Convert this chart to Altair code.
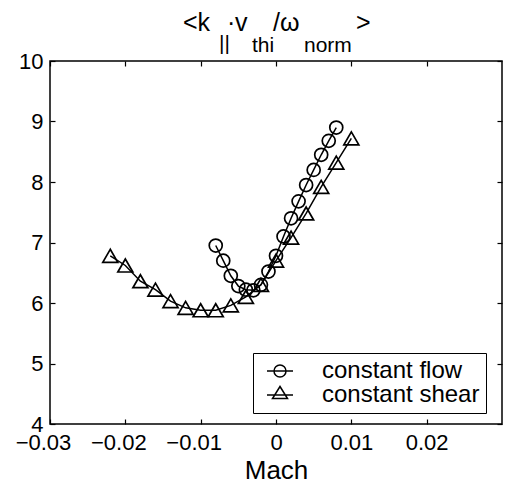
import altair as alt
import pandas as pd

# Constant-flow scan (circles)
flow_mach = [-0.008, -0.007, -0.006, -0.005, -0.004, -0.003, -0.002, -0.001, 0.0,
             0.001, 0.002, 0.003, 0.004, 0.005, 0.006, 0.007, 0.008]
flow_vals = [6.95, 6.70, 6.45, 6.28, 6.22, 6.21, 6.30, 6.52, 6.78,
             7.10, 7.40, 7.68, 7.95, 8.20, 8.45, 8.68, 8.90]

# Constant-shear scan (triangles)
shear_mach = [-0.022, -0.020, -0.018, -0.016, -0.014, -0.012, -0.010, -0.008, -0.006,
              -0.004, -0.002, 0.0, 0.002, 0.004, 0.006, 0.008, 0.010]
shear_vals = [6.78, 6.62, 6.36, 6.22, 6.03, 5.92, 5.88, 5.88, 5.96,
              6.10, 6.30, 6.70, 7.08, 7.48, 7.92, 8.32, 8.72]

series_names = ["constant flow", "constant shear"]
x_ticks = [-0.03, -0.02, -0.01, 0.0, 0.01, 0.02]
y_ticks = [4, 5, 6, 7, 8, 9, 10]

df = pd.concat([
    pd.DataFrame({"mach": flow_mach, "value": flow_vals, "series": series_names[0]}),
    pd.DataFrame({"mach": shear_mach, "value": shear_vals, "series": series_names[1]}),
])

FONT = "Liberation Sans"
W, H = 452, 363
TICK = 5

xscale = alt.Scale(domain=[-0.03, 0.03], nice=False, zero=False)
yscale = alt.Scale(domain=[4, 10], nice=False, zero=False)

# Axes are pulled inside the frame by the tick length so ticks point inward
x_axis = alt.Axis(
    values=x_ticks, format=".2~f", title="Mach", domain=False, grid=False,
    offset=-TICK, tickSize=TICK, tickColor="black", tickWidth=1.2, labelPadding=3 + TICK,
    labelFont=FONT, labelFontSize=22, labelColor="black", labelFlush=False,
    labelOverlap=False,
    labelOffset={"condition": {"test": "datum.value < 0", "value": -7}, "value": 0},
    titleFont=FONT, titleFontSize=26, titleFontWeight="normal", titleColor="black",
    titleBaseline="alphabetic", titleY=54 + TICK,
)
y_axis = alt.Axis(
    values=y_ticks, title=None, domain=False, grid=False,
    offset=-TICK, tickSize=TICK, tickColor="black", tickWidth=1.2, labelPadding=2 + TICK,
    labelFont=FONT, labelFontSize=22, labelColor="black", labelFlush=False,
    labelOverlap=False,
)
# Mirrored top / right ticks, no labels
x_axis_top = alt.Axis(
    orient="top", values=x_ticks, title=None, domain=False, grid=False, labels=False,
    offset=-TICK, tickSize=TICK, tickColor="black", tickWidth=1.2,
)
y_axis_right = alt.Axis(
    orient="right", values=y_ticks, title=None, domain=False, grid=False, labels=False,
    offset=-TICK, tickSize=TICK, tickColor="black", tickWidth=1.2,
)

lines = alt.Chart(df).mark_line(color="black", strokeWidth=1.5).encode(
    x=alt.X("mach:Q", scale=xscale, axis=x_axis),
    y=alt.Y("value:Q", scale=yscale, axis=y_axis),
    detail="series:N",
)

points = alt.Chart(df).mark_point(filled=False, color="black", strokeWidth=1.7, opacity=1).encode(
    x=alt.X("mach:Q", scale=xscale, axis=x_axis_top),
    y=alt.Y("value:Q", scale=yscale, axis=y_axis_right),
    shape=alt.Shape(
        "series:N",
        scale=alt.Scale(domain=series_names, range=["circle", "triangle-up"]),
        legend=None,
    ),
    size=alt.Size("series:N", scale=alt.Scale(domain=series_names, range=[169, 225]), legend=None),
)

# Legend key: a short line through each marker
flow_sym = "M-0.4,0H2.2M1.5,0A0.6,0.6,0,1,1,0.3,0A0.6,0.6,0,1,1,1.5,0Z"
shear_sym = "M-0.4,0H2.2M0.9,-0.85L1.65,0.35L0.15,0.35Z"

legend_layer = alt.Chart(df).transform_filter("false").mark_point(
    filled=False, color="black", strokeWidth=1.5, opacity=1
).encode(
    shape=alt.Shape(
        "series:N",
        scale=alt.Scale(domain=series_names, range=[flow_sym, shear_sym]),
        legend=alt.Legend(
            title=None, orient="none", legendX=203, legendY=292,
            padding=6, strokeColor="black", fillColor="white", cornerRadius=0,
            labelFont=FONT, labelFontSize=24, labelColor="black", labelLimit=300,
            symbolSize=400, labelOffset=39, rowPadding=0,
            symbolStrokeColor="black", symbolStrokeWidth=1.5,
            symbolFillColor="transparent", symbolOpacity=1,
        ),
    ),
)

# Title  <k_|| . v_thi / omega_norm>  built from pieces for the subscripts
one = pd.DataFrame({"k": [0]})
MAIN_Y, SUB_Y = 31 - 61, 52 - 61
title_parts = [
    ("<k", 183, MAIN_Y, 25),
    ("||", 219, SUB_Y - 2, 21),
    ("·", 227, MAIN_Y, 25),
    ("v", 235, MAIN_Y, 25),
    ("thi", 252, SUB_Y, 21),
    ("/ω", 273, MAIN_Y, 25),
    ("norm", 304, SUB_Y, 21),
    (">", 356, MAIN_Y, 25),
]
title_layers = [
    alt.Chart(one).mark_text(align="left", baseline="alphabetic", font=FONT,
                             fontSize=fs, color="black").encode(
        x=alt.value(px - 50), y=alt.value(py), text=alt.value(txt))
    for txt, px, py, fs in title_parts
]

chart = alt.layer(lines, points, legend_layer, *title_layers).resolve_scale(
    shape="independent"
).resolve_axis(
    x="independent", y="independent"
).properties(
    width=W, height=H,
    autosize=alt.AutoSizeParams(type="none"),
    padding={"left": 50, "top": 61, "right": 3, "bottom": 73},
    background="white",
).configure_view(stroke="black", strokeWidth=1.5)

chart.save("out.html", embed_options={"renderer": "svg", "actions": False})
